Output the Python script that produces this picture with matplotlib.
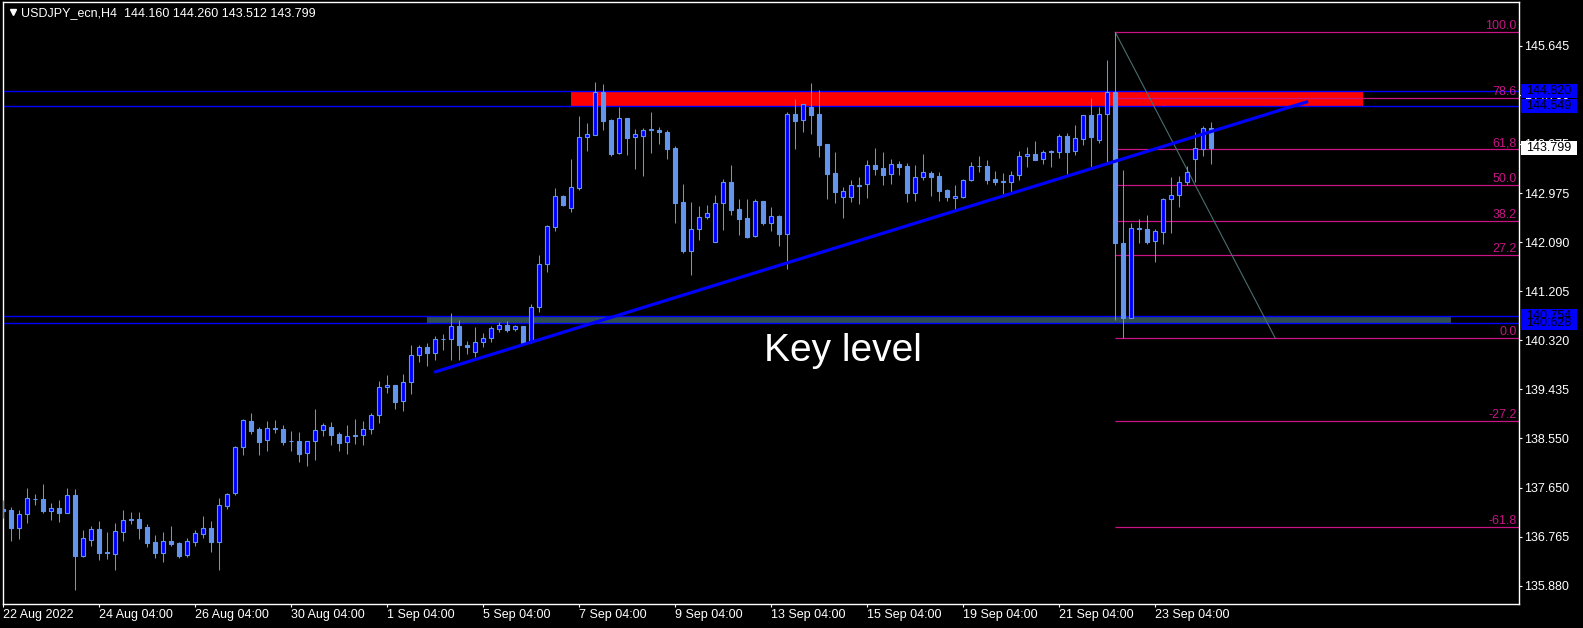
import numpy as np
import matplotlib
matplotlib.use("Agg")
import matplotlib.pyplot as plt
from matplotlib.patches import Rectangle

plt.rcParams['font.family'] = ['Liberation Sans', 'DejaVu Sans']

# USDJPY H4 candles (bar index 0 = 22 Aug 2022)
opens = [137.266, 137.248, 136.929, 137.181, 137.445, 137.447, 137.236, 137.285, 137.200, 137.520,
         136.417, 136.712, 136.905, 136.484, 136.459, 136.856, 137.073, 137.086, 136.941, 136.670,
         136.477, 136.688, 136.652, 136.435, 136.676, 136.820, 136.923, 136.676, 137.327, 137.551,
         138.382, 138.858, 138.713, 138.509, 138.720, 138.713, 138.493, 138.497, 138.274, 138.491,
         138.690, 138.744, 138.623, 138.473, 138.592, 138.599, 138.708, 138.961, 139.467, 139.509,
         139.214, 139.558, 140.046, 140.191, 140.082, 140.341, 140.335, 140.570, 140.227, 140.100,
         140.292, 140.353, 140.527, 140.589, 140.516, 140.576, 140.287, 140.914, 141.692, 142.361,
         142.927, 142.704, 143.077, 143.988, 144.035, 144.813, 144.301, 143.704, 144.337, 144.000,
         144.017, 144.124, 144.120, 144.089, 143.800, 142.818, 141.938, 142.335, 142.542, 142.100,
         142.795, 143.180, 142.692, 142.529, 142.203, 142.836, 142.444, 142.571, 142.245, 144.410,
         144.296, 144.542, 144.410, 143.867, 143.343, 142.914, 142.914, 143.113, 143.138, 143.487,
         143.433, 143.319, 143.500, 143.469, 142.986, 143.265, 143.337, 143.288, 143.035, 142.885,
         142.914, 143.211, 143.466, 143.464, 143.234, 143.198, 143.175, 143.301, 143.645, 143.681,
         143.590, 143.724, 143.717, 144.012, 143.735, 143.963, 144.391, 143.945, 144.404, 144.813,
         142.071, 140.715, 142.339, 142.330, 142.107, 142.281, 142.867, 142.939, 143.174, 143.590,
         143.782, 144.160]
highs = [137.429, 137.302, 137.243, 137.646, 137.538, 137.718, 137.375, 137.429, 137.646, 137.628,
         136.887, 136.959, 137.050, 136.851, 137.014, 137.243, 137.213, 137.213, 136.996, 136.797,
         136.851, 136.959, 136.665, 136.737, 136.887, 137.140, 137.050, 137.466, 137.561, 138.406,
         138.894, 139.003, 138.750, 138.858, 138.876, 138.786, 138.677, 138.659, 138.491, 139.075,
         138.822, 138.840, 138.659, 138.786, 138.894, 138.858, 139.003, 139.581, 139.690, 139.509,
         139.708, 140.233, 140.238, 140.263, 140.395, 140.426, 140.806, 140.684, 140.310, 140.563,
         140.455, 140.581, 140.648, 140.666, 140.594, 140.576, 140.979, 141.854, 142.408, 143.071,
         142.950, 143.596, 144.373, 144.247, 144.988, 144.952, 144.319, 144.536, 144.337, 144.138,
         144.156, 144.451, 144.174, 144.120, 143.831, 143.138, 142.813, 142.751, 142.764, 142.945,
         143.234, 143.487, 142.878, 142.878, 142.867, 142.836, 142.728, 142.589, 144.451, 144.681,
         144.590, 144.970, 144.844, 143.867, 143.717, 143.089, 143.216, 143.265, 143.578, 143.789,
         143.722, 143.596, 143.560, 143.518, 143.487, 143.686, 143.384, 143.355, 143.059, 143.126,
         143.229, 143.542, 143.650, 143.578, 143.379, 143.343, 143.379, 143.740, 143.813, 143.921,
         143.753, 143.753, 144.048, 144.066, 144.211, 144.391, 144.699, 144.536, 145.386, 145.887,
         143.397, 142.444, 142.511, 142.589, 142.330, 142.891, 143.270, 143.288, 143.464, 144.089,
         144.193, 144.260]
lows = [137.109, 136.693, 136.724, 137.019, 137.344, 137.200, 137.068, 137.037, 137.200, 135.802,
        136.404, 136.603, 136.345, 136.368, 136.164, 136.688, 136.996, 136.724, 136.580, 136.381,
        136.309, 136.598, 136.381, 136.399, 136.598, 136.742, 136.489, 136.164, 137.267, 137.520,
        138.249, 138.628, 138.249, 138.321, 138.636, 138.424, 138.316, 138.117, 138.050, 138.158,
        138.592, 138.430, 138.321, 138.267, 138.448, 138.430, 138.628, 138.827, 139.359, 139.080,
        139.044, 139.352, 139.925, 139.858, 139.961, 140.142, 139.961, 139.961, 140.070, 140.021,
        140.202, 140.292, 140.473, 140.473, 140.491, 140.251, 140.263, 140.835, 141.558, 142.299,
        142.746, 142.643, 143.041, 143.746, 144.024, 144.120, 143.655, 143.686, 143.668, 143.415,
        143.294, 143.710, 143.872, 143.596, 142.444, 141.891, 141.493, 142.131, 142.511, 142.100,
        142.312, 142.589, 142.222, 142.162, 142.191, 142.408, 142.299, 142.028, 141.601, 143.782,
        144.089, 144.053, 143.637, 142.878, 142.806, 142.534, 142.818, 142.788, 142.896, 143.306,
        143.131, 143.144, 143.312, 142.818, 142.836, 143.211, 142.927, 142.836, 142.836, 142.674,
        142.891, 143.203, 143.361, 143.149, 143.131, 142.957, 142.999, 143.211, 143.451, 143.583,
        143.511, 143.457, 143.619, 143.325, 143.668, 143.849, 143.428, 143.891, 143.547, 140.685,
        140.355, 140.715, 142.082, 142.053, 141.739, 142.064, 142.252, 142.722, 143.131, 143.185,
        143.655, 143.512]
closes = [137.236, 136.929, 137.175, 137.465, 137.440, 137.230, 137.285, 137.200, 137.520, 136.417,
          136.737, 136.900, 136.471, 136.480, 136.869, 137.062, 137.078, 136.929, 136.657, 136.471,
          136.688, 136.639, 136.417, 136.688, 136.833, 136.918, 136.670, 137.339, 137.538, 138.382,
          138.876, 138.683, 138.484, 138.726, 138.716, 138.484, 138.489, 138.267, 138.491, 138.695,
          138.780, 138.610, 138.466, 138.581, 138.596, 138.708, 138.961, 139.467, 139.504, 139.207,
          139.558, 140.046, 140.191, 140.082, 140.335, 140.337, 140.570, 140.227, 140.191, 140.292,
          140.353, 140.534, 140.589, 140.504, 140.570, 140.274, 140.914, 141.692, 142.379, 142.921,
          142.764, 143.084, 143.988, 144.042, 144.813, 144.288, 143.681, 144.332, 143.981, 144.048,
          144.120, 144.128, 144.089, 143.777, 142.806, 141.938, 142.335, 142.542, 142.614, 142.800,
          143.174, 142.679, 142.516, 142.191, 142.836, 142.444, 142.571, 142.245, 144.410, 144.288,
          144.585, 144.397, 143.854, 143.330, 143.005, 143.017, 143.120, 143.109, 143.482, 143.420,
          143.312, 143.500, 143.451, 142.986, 143.265, 143.355, 143.276, 143.023, 142.914, 142.921,
          143.216, 143.464, 143.462, 143.221, 143.185, 143.175, 143.301, 143.645, 143.681, 143.583,
          143.717, 143.720, 144.006, 143.728, 143.970, 144.386, 144.000, 144.404, 144.802, 142.071,
          140.715, 142.343, 142.335, 142.095, 142.288, 142.867, 142.939, 143.174, 143.355, 143.789,
          144.151, 143.799]

xtick_bars = [0, 12, 24, 36, 48, 60, 72, 84, 96, 108, 120, 132, 144]
xtick_labels = ["22 Aug 2022", "24 Aug 04:00", "26 Aug 04:00", "30 Aug 04:00", "1 Sep 04:00",
                "5 Sep 04:00", "7 Sep 04:00", "9 Sep 04:00", "13 Sep 04:00", "15 Sep 04:00",
                "19 Sep 04:00", "21 Sep 04:00", "23 Sep 04:00"]
ytick_vals = [145.645, 144.760, 143.875, 142.975, 142.090, 141.205, 140.320,
              139.435, 138.550, 137.650, 136.765, 135.880]

# chart objects
resist_lo, resist_hi = 144.549, 144.820
support_lo, support_hi = 140.628, 140.754
resist_bars = (71, 170)
support_bars = (53, 181)
trend_x = [53.85, 163.1]
trend_y = [139.740, 144.636]
fib_high, fib_low = 145.887, 140.355
fib_bars = (139, 159)
fib_levels = [100.0, 78.6, 61.8, 50.0, 38.2, 27.2, 0.0, -27.2, -61.8]
fib_labels = ["100.0", "78.6", "61,8", "50.0", "38.2", "27.2", "0.0", "-27.2", "-61.8"]

price_tags = [(144.820, '#0000FF'), (144.549, '#0000FF'), (143.799, '#FFFFFF'),
              (140.628, '#0000FF'), (140.754, '#0000FF')]

W, H = 1583, 628
fig = plt.figure(figsize=(W / 100, H / 100), dpi=100, facecolor='black')
ax = fig.add_axes([2.5 / W, 24 / H, 1516.8 / W, 602 / H], facecolor='black')
xmin, xmax = -0.1, 189.5
ax.set_xlim(xmin, xmax)
ax.set_ylim(135.549, 146.435)

o, hi, lo, c = map(np.array, (opens, highs, lows, closes))
x = np.arange(len(o))
up = c >= o
bot = np.minimum(o, c)
hgt = np.maximum(np.abs(c - o), 0.012)

# background rectangles
ax.add_patch(Rectangle((resist_bars[0], resist_lo), resist_bars[1] - resist_bars[0],
                       resist_hi - resist_lo, color='#FF0000', lw=0, zorder=1))
ax.add_patch(Rectangle((support_bars[0], support_lo), support_bars[1] - support_bars[0],
                       support_hi - support_lo, color='#2F4F4F', lw=0, zorder=1))
for v in (resist_lo, resist_hi, support_lo, support_hi):
    ax.axhline(v, color='#0000FF', lw=1, zorder=2)

# fibo
fib_prices = [fib_low + lv / 100 * (fib_high - fib_low) for lv in fib_levels]
ax.hlines(fib_prices, fib_bars[0], xmax, color='#C71585', lw=0.9, zorder=2)
for p, s in zip(fib_prices, fib_labels):
    ax.text(189.2, p, s, ha='right', va='bottom', color='#C71585', fontsize=9, zorder=2)
ax.plot(fib_bars, [fib_high, fib_low], color='#4a6e6e', lw=0.8, zorder=2)

# candles
ax.vlines(x, lo, hi, color='#6495ED', lw=0.75, zorder=3)
ax.bar(x[up], hgt[up], bottom=bot[up], width=0.5, color='#0000FF',
       edgecolor='#6495ED', lw=0.8, zorder=4)
ax.bar(x[~up], hgt[~up], bottom=bot[~up], width=0.5, color='#6495ED',
       edgecolor='#6495ED', lw=0.8, zorder=4)

# trend line
ax.plot(trend_x, trend_y, color='#0000FF', lw=2.3, zorder=6, solid_capstyle='butt')

ax.text(95.1, 139.943, "Key level", fontsize=28, color='white', va='baseline', ha='left', zorder=7)

# header
ax.plot([0.0071], [0.9836], marker='v', ms=5, color='white', transform=ax.transAxes, clip_on=False)
ax.text(0.0122, 0.9817, "USDJPY_ecn,H4  144.160 144.260 143.512 143.799", transform=ax.transAxes,
        color='white', fontsize=9, va='center', ha='left')

# axes styling
for sp in ax.spines.values():
    sp.set_color('white')
    sp.set_linewidth(1)
ax.yaxis.tick_right()
ax.set_yticks(ytick_vals)
ax.set_yticklabels([f"{v:.3f}" for v in ytick_vals])
ax.set_xticks(xtick_bars)
ax.set_xticklabels(xtick_labels)
for lab in ax.get_xticklabels():
    lab.set_ha('left')
ax.tick_params(colors='white', labelcolor='white', length=2.2, width=0.8, labelsize=9, pad=1.5)

# price tags on the scale
ytr = ax.get_yaxis_transform()
tag_h = 14 * 10.886 / 602
for p, col in price_tags:
    ax.add_patch(Rectangle((1.0013, p - tag_h / 2), 56 / 1516.8, tag_h, transform=ytr,
                           color=col, lw=0, clip_on=False, zorder=8))
    ax.text(1.0042, p, f"{p:.3f}", transform=ytr, color='black', fontsize=9,
            va='center', ha='left', clip_on=False, zorder=9)

fig.savefig('out.png', dpi=100, facecolor='black')
